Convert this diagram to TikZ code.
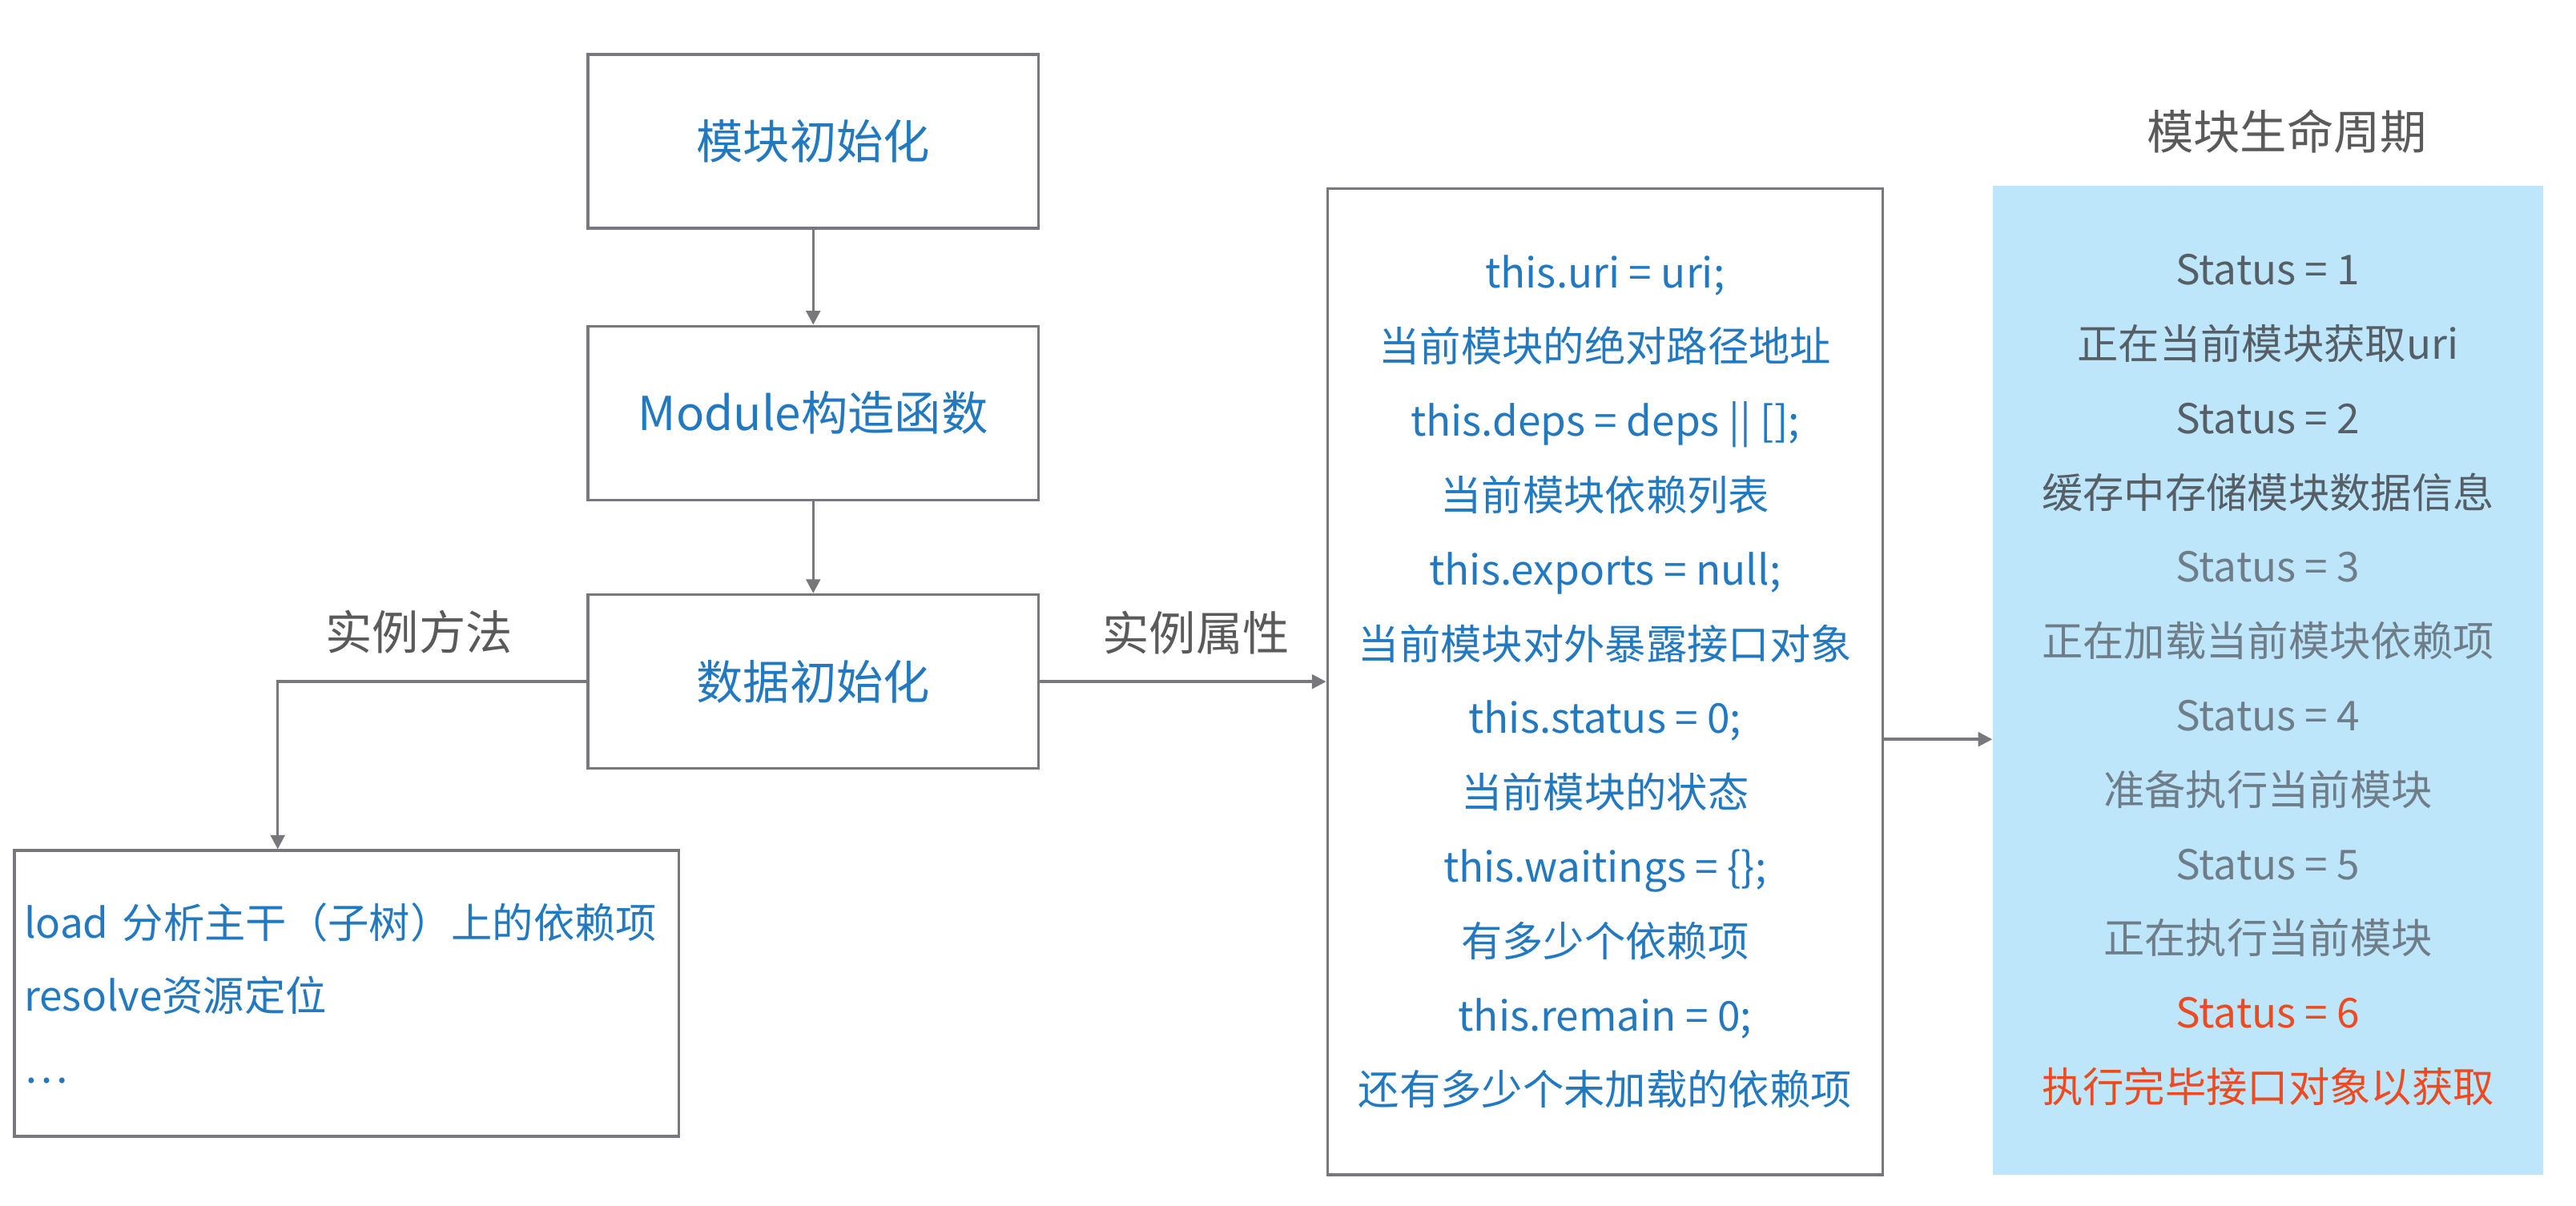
\documentclass[tikz,border=0pt]{standalone}
\usepackage{fontspec}
\setmainfont{Noto Sans CJK SC}
\usetikzlibrary{arrows.meta,positioning}
\definecolor{framegray}{HTML}{77777D}
\definecolor{txtblue}{HTML}{2279C0}
\definecolor{labelgray}{HTML}{5A5A5A}
\definecolor{darkslate}{HTML}{565E66}
\definecolor{lightslate}{HTML}{6F7D89}
\definecolor{donered}{HTML}{EE4A22}
\definecolor{lifeblue}{HTML}{BDE6FB}
\tikzset{
  stepbox/.style={draw=framegray, line width=1pt, minimum width=5.62cm, minimum height=2.17cm,
    text=txtblue, font=\fontsize{16.6}{20}\selectfont},
  listbox/.style={draw=framegray, line width=1pt, minimum height=3.57cm, text width=8.05cm,
    inner xsep=0.12cm, align=left, text=txtblue, font=\fontsize{14.6}{25.7}\selectfont},
  attrbox/.style={draw=framegray, line width=1pt, minimum width=6.93cm, minimum height=12.31cm,
    align=center, text=txtblue, font=\fontsize{14.6}{26.4}\selectfont},
  lifebox/.style={fill=lifeblue, minimum width=6.87cm, minimum height=12.35cm,
    align=center, font=\fontsize{14.6}{26.4}\selectfont},
  lbl/.style={text=labelgray, font=\fontsize{16.6}{20}\selectfont},
  conn/.style={draw=framegray, line width=1pt, -{Triangle[length=5pt,width=5pt]}},
}
\begin{document}
\begin{tikzpicture}[x=0.02051cm, y=-0.02051cm]
            \useasboundingbox (0,0) rectangle (1568,734);
            % main column
            \node[stepbox] (init) at (495,86) {模块初始化};
            \node[stepbox] (ctor) at (495,251.5) {Module构造函数};
            \node[stepbox] (data) at (495,415) {数据初始化};
            \draw[conn] (init) -- (ctor);
            \draw[conn] (ctor) -- (data);

            % instance methods
            \node[listbox, anchor=north west] (methods) at (8,517)
                {load 分析主干（子树）上的依赖项\\resolve资源定位\\…};
            \draw[conn] (data.west) -| ([xshift=-0.86cm]methods.north);
            \node[lbl] (lblmethods) at (255,385) {实例方法};

            % instance attributes
            \node[attrbox] (attrs) at (977,415)
                {this.uri = uri;\\当前模块的绝对路径地址\\this.deps = deps || [];\\当前模块依赖列表\\
                 this.exports = null;\\当前模块对外暴露接口对象\\this.status = 0;\\当前模块的状态\\
                 this.waitings = \{\};\\有多少个依赖项\\this.remain = 0;\\还有多少个未加载的依赖项};
            \draw[conn] (data.east) -- (attrs.west);
            \node[lbl] (lblattrs) at (728,385) {实例属性};

            % lifecycle
            \node[lifebox] (life) at (1380.5,414)
                {\textcolor{darkslate}{Status = 1}\\\textcolor{darkslate}{正在当前模块获取uri}\\
                 \textcolor{darkslate}{Status = 2}\\\textcolor{darkslate}{缓存中存储模块数据信息}\\
                 \textcolor{lightslate}{Status = 3}\\\textcolor{lightslate}{正在加载当前模块依赖项}\\
                 \textcolor{lightslate}{Status = 4}\\\textcolor{lightslate}{准备执行当前模块}\\
                 \textcolor{lightslate}{Status = 5}\\\textcolor{lightslate}{正在执行当前模块}\\
                 \textcolor{donered}{Status = 6}\\\textcolor{donered}{执行完毕接口对象以获取}};
            \node[lbl] (lifetitle) at (1392,80) {模块生命周期};
            \draw[conn] ([yshift=-0.72cm]attrs.east) coordinate (tap) -- (tap -| life.west);
        \end{tikzpicture}
\end{document}
